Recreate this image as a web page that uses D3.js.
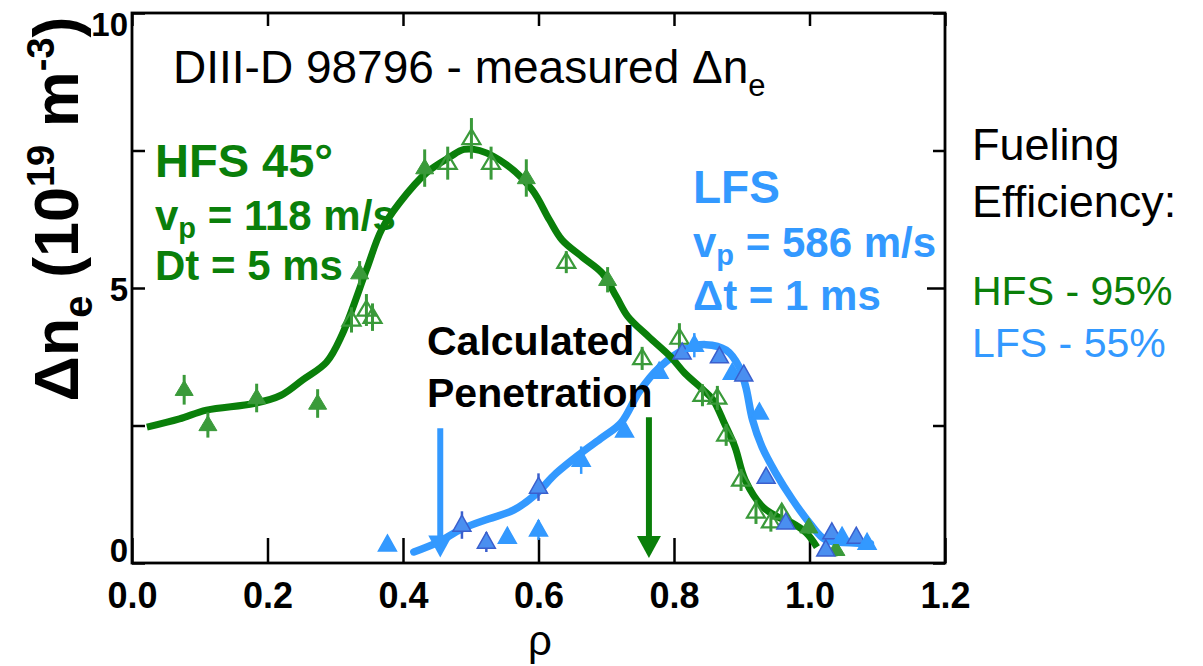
<!DOCTYPE html>
<html>
<head>
<meta charset="utf-8">
<script src="https://cdn.jsdelivr.net/npm/d3@7"></script>
<style>
  body { margin: 0; background: #fff; }
  svg text { font-family: "Liberation Sans", Arial, sans-serif; }
</style>
</head>
<body>
<div id="chart"></div>
<script>
// values
const xTicks = [0, 0.2, 0.4, 0.6, 0.8, 1.0, 1.2];
const yTicks = [0, 2.5, 5, 7.5, 10];
const yLabels = [0, 5, 10];

// smooth fit curves [rho, dne]
const hfsFit = [[0.022,2.47],[0.07,2.62],[0.11,2.78],[0.18,2.9],[0.22,3.05],[0.252,3.33],[0.287,3.65],
  [0.31,4.15],[0.346,5.33],[0.368,6.05],[0.395,6.55],[0.435,7.1],[0.469,7.38],[0.49,7.52],[0.513,7.5],
  [0.553,7.24],[0.591,6.78],[0.616,6.24],[0.635,5.87],[0.665,5.56],[0.694,5.27],[0.715,4.84],[0.732,4.48],
  [0.763,4.11],[0.795,3.75],[0.816,3.45],[0.843,3.15],[0.858,2.96],[0.874,2.55],[0.89,2.11],[0.905,1.51],
  [0.931,1.02],[0.953,0.84],[0.974,0.73],[0.995,0.55],[1.011,0.29]];

const lfsFit = [[0.416,0.2],[0.452,0.38],[0.487,0.62],[0.526,0.8],[0.563,0.96],[0.595,1.24],[0.626,1.63],
  [0.663,2.0],[0.695,2.29],[0.722,2.55],[0.749,3.12],[0.778,3.55],[0.818,3.9],[0.847,3.97],[0.877,3.87],
  [0.896,3.57],[0.906,3.2],[0.916,2.6],[0.93,2.11],[0.95,1.64],[0.975,1.15],[1.0,0.73],[1.024,0.42],
  [1.06,0.37],[1.09,0.35]];

// measured points: rho, value, error half-length, open marker
const hfsPoints = [
  {rho:0.077,v:3.15,err:0.27,open:false},{rho:0.112,v:2.51,err:0.23,open:false},
  {rho:0.184,v:3.0,err:0.26,open:false},{rho:0.274,v:2.9,err:0.26,open:false},
  {rho:0.336,v:5.27,err:0.22,open:false},{rho:0.324,v:4.42,err:0.23,open:true},
  {rho:0.346,v:4.6,err:0.29,open:true},{rho:0.355,v:4.47,err:0.25,open:true},
  {rho:0.432,v:7.18,err:0.34,open:false},{rho:0.466,v:7.27,err:0.3,open:true},
  {rho:0.501,v:7.72,err:0.37,open:true},{rho:0.530,v:7.27,err:0.3,open:true},
  {rho:0.582,v:7.0,err:0.34,open:false},{rho:0.641,v:5.47,err:0.2,open:true},
  {rho:0.702,v:5.15,err:0.23,open:false},{rho:0.753,v:3.72,err:0.21,open:true},
  {rho:0.808,v:4.09,err:0.27,open:true},{rho:0.842,v:3.05,err:0.2,open:true},
  {rho:0.864,v:3.0,err:0.22,open:true},{rho:0.877,v:2.33,err:0.2,open:true},
  {rho:0.899,v:1.51,err:0.2,open:true},{rho:0.921,v:0.93,err:0.22,open:true},
  {rho:0.943,v:0.75,err:0.18,open:true},{rho:0.959,v:0.91,err:0.15,open:true},
  {rho:0.999,v:0.65,err:0.12,open:false},{rho:1.039,v:0.24,err:0.12,open:false}
];

const lfsPoints = [
  {rho:0.377,v:0.33,err:0,dark:false},{rho:0.487,v:0.69,err:0.25,dark:true},
  {rho:0.523,v:0.38,err:0.18,dark:true},{rho:0.554,v:0.47,err:0,dark:false},
  {rho:0.600,v:0.6,err:0.18,dark:false},{rho:0.600,v:1.38,err:0.25,dark:true},
  {rho:0.663,v:1.87,err:0.25,dark:false},{rho:0.727,v:2.4,err:0,dark:false},
  {rho:0.778,v:3.47,err:0,dark:false},{rho:0.812,v:3.82,err:0,dark:true},
  {rho:0.830,v:3.96,err:0.22,dark:false},{rho:0.867,v:3.75,err:0,dark:true},
  {rho:0.886,v:3.45,err:0,dark:false},{rho:0.903,v:3.42,err:0,dark:true},
  {rho:0.926,v:2.73,err:0,dark:false},{rho:0.936,v:1.56,err:0,dark:true},
  {rho:0.965,v:0.73,err:0,dark:true},{rho:1.024,v:0.24,err:0,dark:true},
  {rho:1.033,v:0.55,err:0,dark:true},{rho:1.048,v:0.47,err:0,dark:false},
  {rho:1.069,v:0.47,err:0,dark:true},{rho:1.085,v:0.36,err:0,dark:false}
];

// calculated penetration arrows: rho, top value, tip value
const penetration = [
  {rho:0.455, top:2.45, tip:0.1, color:"#3399ff"},
  {rho:0.763, top:2.65, tip:0.09, color:"#0a7f0a"}
];

const GREEN = "#0a7f0a", GREEN_PT = "#3a9a3a", BLUE = "#3399ff", BLUE_DK = "#3a5fcd";

const W = 1203, H = 666;
const margin = { top: 13, right: 258, bottom: 103, left: 132 };
const width = W - margin.left - margin.right;
const height = H - margin.top - margin.bottom;

const svg = d3.select("#chart").append("svg")
  .attr("width", W).attr("height", H);

const g = svg.append("g")
  .attr("transform", `translate(${margin.left},${margin.top})`);

const x = d3.scaleLinear().domain([0, 1.2]).range([0, width]);
const y = d3.scaleLinear().domain([0, 10]).range([height, 0]);

// axes (ticks point inward)
const xAxis = g.append("g").attr("transform", `translate(0,${height})`)
  .call(d3.axisBottom(x).tickValues(xTicks).tickSize(-25).tickFormat(d3.format(".1f")));
xAxis.selectAll("text").attr("y", 45).attr("dy", 0)
  .attr("font-size", 36).attr("font-weight", "bold").attr("fill", "#000");

g.append("g").call(d3.axisTop(x).tickValues(xTicks).tickSize(-13).tickFormat(""));

const yAxis = g.append("g")
  .call(d3.axisLeft(y).tickValues(yTicks).tickSize(-13)
    .tickFormat(d => yLabels.includes(d) ? d3.format("d")(d) : ""));
yAxis.selectAll("text")
  .attr("x", -4).attr("dy", 0)
  .attr("y", d => d === 10 ? 22 : d === 0 ? -2 : 12)
  .attr("font-size", 33).attr("font-weight", "bold").attr("fill", "#000");

g.append("g").attr("transform", `translate(${width},0)`)
  .call(d3.axisRight(y).tickValues(yTicks).tickSize(-12).tickFormat(""))
  .selectAll(".tick line").filter(d => d === 5).attr("x2", -18);

g.selectAll(".domain").remove();
g.selectAll(".tick line").attr("stroke", "#000").attr("stroke-width", 2.5);

g.append("rect").attr("width", width).attr("height", height)
  .attr("fill", "none").attr("stroke", "#000").attr("stroke-width", 2.8);

// fit curves
const line = d3.line().x(d => x(d[0])).y(d => y(d[1])).curve(d3.curveCatmullRom.alpha(0.5));

g.append("path").datum(lfsFit).attr("d", line)
  .attr("fill", "none").attr("stroke", BLUE).attr("stroke-width", 7.5)
  .attr("stroke-linecap", "round").attr("stroke-linejoin", "round");

g.append("path").datum(hfsFit).attr("d", line)
  .attr("fill", "none").attr("stroke", GREEN).attr("stroke-width", 7)
  .attr("stroke-linecap", "butt").attr("stroke-linejoin", "round");

// triangle marker
const tri = (w, h) => `M0,${-h * 0.62}L${w / 2},${h * 0.38}L${-w / 2},${h * 0.38}Z`;

// HFS points
const hfs = g.append("g").selectAll("g").data(hfsPoints).join("g")
  .attr("transform", d => `translate(${x(d.rho)},${y(d.v)})`);
hfs.append("line")
  .attr("y1", d => y(d.v + d.err) - y(d.v)).attr("y2", d => y(d.v - d.err) - y(d.v))
  .attr("stroke", GREEN_PT).attr("stroke-width", 3);
hfs.append("path").attr("d", tri(18, 15))
  .attr("fill", d => d.open ? "none" : GREEN_PT)
  .attr("stroke", GREEN_PT).attr("stroke-width", d => d.open ? 2.2 : 1);

// LFS points
const lfs = g.append("g").selectAll("g").data(lfsPoints).join("g")
  .attr("transform", d => `translate(${x(d.rho)},${y(d.v)})`);
lfs.filter(d => d.err > 0).append("line")
  .attr("y1", d => y(d.v + d.err) - y(d.v)).attr("y2", d => y(d.v - d.err) - y(d.v))
  .attr("stroke", d => d.dark ? BLUE_DK : BLUE).attr("stroke-width", 2.5);
lfs.append("path").attr("d", tri(18, 16))
  .attr("fill", d => d.dark ? "#4a8ff0" : BLUE)
  .attr("stroke", d => d.dark ? BLUE_DK : BLUE).attr("stroke-width", 1.5);

// calculated penetration arrows
const arrows = g.append("g").selectAll("g").data(penetration).join("g");
arrows.append("line")
  .attr("x1", d => x(d.rho)).attr("x2", d => x(d.rho))
  .attr("y1", d => y(d.top)).attr("y2", d => y(d.tip) - 18)
  .attr("stroke", d => d.color).attr("stroke-width", 6);
arrows.append("path")
  .attr("d", d => `M${x(d.rho) - 12},${y(d.tip) - 22}L${x(d.rho) + 12},${y(d.tip) - 22}L${x(d.rho)},${y(d.tip)}Z`)
  .attr("fill", d => d.color);

// texts
const t = (px, py, size, weight, color) => svg.append("text")
  .attr("x", px).attr("y", py).attr("font-size", size)
  .attr("font-weight", weight).attr("fill", color);

// axis titles
svg.append("text").attr("x", 540).attr("y", 655).attr("text-anchor", "middle")
  .attr("font-size", 42).text("ρ");

const yt = svg.append("text").attr("transform", "translate(78,209) rotate(-90)")
  .attr("text-anchor", "middle").attr("font-size", 63).attr("font-weight", "bold");
yt.append("tspan").text("Δn");
yt.append("tspan").attr("font-size", 40).attr("dy", 14).text("e");
yt.append("tspan").attr("dy", -14).text(" (10");
yt.append("tspan").attr("font-size", 38).attr("dy", -24).text("19");
yt.append("tspan").attr("dy", 24).text(" m");
yt.append("tspan").attr("font-size", 38).attr("dy", -24).text("-3");
yt.append("tspan").attr("dy", 24).text(")");

const title = t(173, 83, 46, "normal", "#000");
title.append("tspan").text("DIII-D 98796 - measured Δn");
title.append("tspan").attr("font-size", 31).attr("dy", 13).text("e");

t(155, 177, 47, "bold", GREEN).text("HFS 45°");
const hv = t(155, 230, 42, "bold", GREEN);
hv.append("tspan").text("v");
hv.append("tspan").attr("font-size", 29).attr("dy", 8).text("p");
hv.append("tspan").attr("dy", -8).text(" = 118 m/s");
t(155, 280, 42, "bold", GREEN).text("Dt = 5 ms");

t(693, 203, 46, "bold", BLUE).text("LFS");
const lv = t(693, 257, 42, "bold", BLUE);
lv.append("tspan").text("v");
lv.append("tspan").attr("font-size", 29).attr("dy", 8).text("p");
lv.append("tspan").attr("dy", -8).text(" = 586 m/s");
t(693, 310, 42, "bold", BLUE).text("Δt = 1 ms");

t(427, 355, 41, "bold", "#000").text("Calculated");
t(427, 407, 41, "bold", "#000").text("Penetration");

t(972, 160, 45, "normal", "#000").text("Fueling");
t(972, 217, 45, "normal", "#000").text("Efficiency:");
t(972, 305, 41, "normal", GREEN).text("HFS - 95%");
t(972, 357, 41, "normal", BLUE).text("LFS - 55%");
</script>
</body>
</html>
